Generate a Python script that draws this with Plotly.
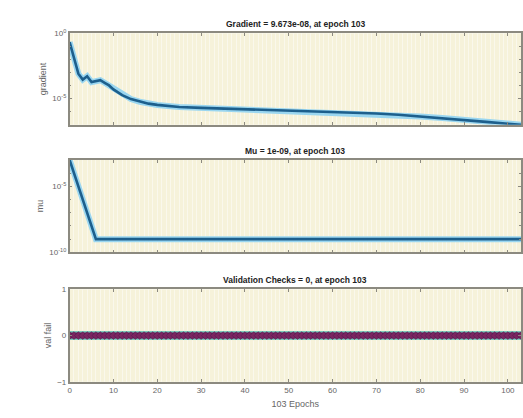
import plotly.graph_objects as go

# ---- data ----
grad_epochs = [0, 1, 2, 3, 4, 5, 6, 7, 8, 9, 10, 12, 14, 16, 18, 20, 25, 30, 40, 50, 60, 70, 75, 80, 85, 90, 95, 100, 103]
grad_values = [2.1e-1, 1.0e-2, 7.9e-4, 2.8e-4, 5.0e-4, 1.8e-4, 2.2e-4, 2.5e-4, 1.6e-4, 1.0e-4,
               5.0e-5, 1.8e-5, 8.9e-6, 5.6e-6, 4.0e-6, 3.2e-6, 2.2e-6, 1.9e-6, 1.5e-6, 1.2e-6,
               9.3e-7, 7.1e-7, 5.6e-7, 4.2e-7, 3.2e-7, 2.2e-7, 1.6e-7, 1.15e-7, 9.673e-8]

mu_epochs = [0, 1, 2, 3, 4, 5, 6, 103]
mu_values = [1e-3, 1e-4, 1e-5, 1e-6, 1e-7, 1e-8, 1e-9, 1e-9]

val_epochs = list(range(0, 104))
val_values = [0] * 104

titles = ["Gradient = 9.673e-08, at epoch 103",
          "Mu = 1e-09, at epoch 103",
          "Validation Checks = 0, at epoch 103"]
ylabels = ["gradient", "mu", "val fail"]
x_ticks = [0, 10, 20, 30, 40, 50, 60, 70, 80, 90, 100]

# ---- layout geometry ----
W, H = 523, 418
xdom = [68 / W, 522 / W]
boxes = [(28, 122), (158, 253), (291, 386)]  # top / bottom pixel rows
ydoms = [[1 - b / H, 1 - t / H] for t, b in boxes]

FONT = "Liberation Sans, Arial, sans-serif"
BG = "#f6f2da"
GRID = "#faf8ec"
FRAME = "#8c8a80"
TICKC = "#666666"

fig = go.Figure()

# gradient
fig.add_trace(go.Scatter(x=grad_epochs, y=grad_values, mode="lines",
                         line=dict(color="#9ad6f0", width=6), xaxis="x", yaxis="y",
                         hoverinfo="skip", showlegend=False))
fig.add_trace(go.Scatter(x=grad_epochs, y=grad_values, mode="lines",
                         line=dict(color="#1d5f8c", width=2.6), xaxis="x", yaxis="y",
                         showlegend=False))
# mu
fig.add_trace(go.Scatter(x=mu_epochs, y=mu_values, mode="lines",
                         line=dict(color="#9ad6f0", width=6), xaxis="x2", yaxis="y2",
                         hoverinfo="skip", showlegend=False))
fig.add_trace(go.Scatter(x=mu_epochs, y=mu_values, mode="lines",
                         line=dict(color="#1d5f8c", width=2.6), xaxis="x2", yaxis="y2",
                         showlegend=False))
# val fail
fig.add_trace(go.Scatter(x=val_epochs, y=val_values, mode="lines",
                         line=dict(color="#7cc9bb", width=9), xaxis="x3", yaxis="y3",
                         hoverinfo="skip", showlegend=False))
fig.add_trace(go.Scatter(x=val_epochs, y=val_values, mode="lines+markers",
                         line=dict(color="#6a1f58", width=6),
                         marker=dict(symbol="diamond", size=6, color="#7b2560",
                                     line=dict(color="#4a1a50", width=0.5)),
                         xaxis="x3", yaxis="y3", showlegend=False))

def xaxis_cfg(anchor, show_labels):
    return dict(domain=xdom, anchor=anchor, range=[0, 103],
                tickvals=x_ticks, showticklabels=show_labels,
                ticks="inside", ticklen=3, tickcolor=FRAME, mirror="allticks",
                showline=True, linecolor=FRAME, linewidth=1.5,
                showgrid=True, gridcolor=GRID, gridwidth=1,
                minor=dict(dtick=1, showgrid=True, gridcolor=GRID, gridwidth=1),
                zeroline=False,
                tickfont=dict(family=FONT, size=8, color=TICKC))

layout = dict(width=W, height=H, margin=dict(l=0, r=0, t=0, b=0),
              paper_bgcolor="white", plot_bgcolor=BG, showlegend=False,
              font=dict(family=FONT, size=8, color=TICKC))

layout["xaxis"] = xaxis_cfg("y", False)
layout["xaxis2"] = xaxis_cfg("y2", False)
layout["xaxis3"] = xaxis_cfg("y3", True)
layout["xaxis3"]["title"] = dict(text="103 Epochs", standoff=7,
                                 font=dict(family=FONT, size=9, color=TICKC))

def yaxis_cfg(anchor, dom, **kw):
    d = dict(domain=dom, anchor=anchor, ticks="inside", ticklen=3, tickcolor=FRAME,
             mirror="allticks", showline=True, linecolor=FRAME, linewidth=1.5,
             showgrid=False, zeroline=False,
             tickfont=dict(family=FONT, size=8, color=TICKC))
    d.update(kw)
    return d

layout["yaxis"] = yaxis_cfg("x", ydoms[0], type="log", range=[-7.02, 0],
                            tickvals=[1, 1e-5],
                            ticktext=["10<sup>0</sup>", "10<sup>-5</sup>"],
                            minor=dict(tickvals=[1e-1, 1e-2, 1e-3, 1e-4, 1e-6, 1e-7],
                                       ticks="inside", ticklen=2, tickcolor=FRAME),
                            title=dict(text=ylabels[0], standoff=4,
                                       font=dict(family=FONT, size=9, color=TICKC)))
layout["yaxis2"] = yaxis_cfg("x2", ydoms[1], type="log", range=[-10, -3],
                             tickvals=[1e-5, 1e-10],
                             ticktext=["10<sup>-5</sup>", "10<sup>-10</sup>"],
                             minor=dict(tickvals=[1e-3, 1e-4, 1e-6, 1e-7, 1e-8, 1e-9],
                                        ticks="inside", ticklen=2, tickcolor=FRAME),
                             title=dict(text=ylabels[1], standoff=4,
                                        font=dict(family=FONT, size=9, color=TICKC)))
layout["yaxis3"] = yaxis_cfg("x3", ydoms[2], range=[-1, 1], tickvals=[-1, 0, 1],
                             title=dict(text=ylabels[2], standoff=4,
                                        font=dict(family=FONT, size=9, color=TICKC)))

annotations = []
for (t, b), txt in zip(boxes, titles):
    annotations.append(dict(text="<b>" + txt + "</b>", x=(xdom[0] + xdom[1]) / 2,
                            y=1 - (t - 2) / H, xref="paper", yref="paper",
                            xanchor="center", yanchor="bottom", showarrow=False,
                            font=dict(family=FONT, size=8.5, color="#222222")))
layout["annotations"] = annotations

fig.update_layout(**layout)
fig.write_html("out.html")
